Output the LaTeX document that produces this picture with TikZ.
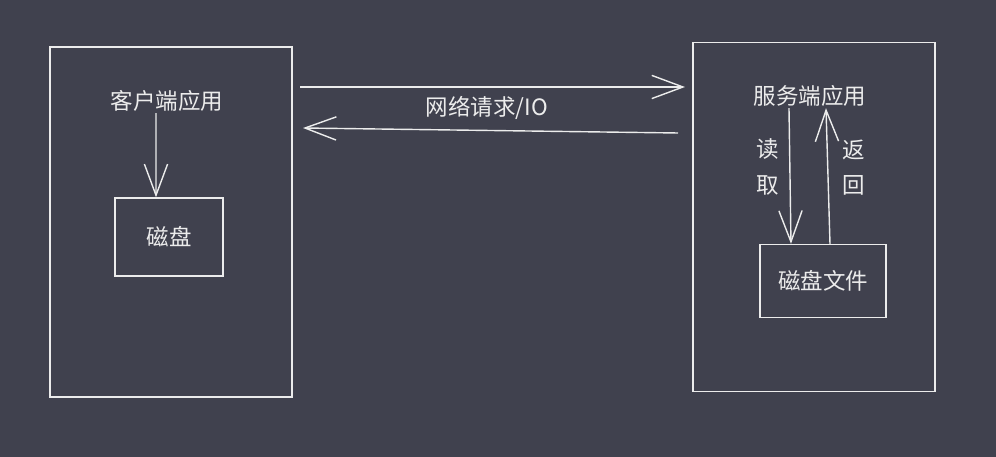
\documentclass[tikz,border=0pt]{standalone}
\usepackage{fontspec}
\newfontfamily\cjk{Noto Sans CJK SC}
\usepackage{tikz}
\usetikzlibrary{
  arrows.meta,
  calc,
  positioning}
\definecolor{bgdark}{RGB}{64,65,78}
\definecolor{chalk}{RGB}{236,236,236}

\begin{document}
\begin{tikzpicture}[x=0.025cm,y=-0.025cm,
            box/.style={draw=chalk,line width=1pt,inner sep=0pt},
            lbl/.style={text=chalk,font=\cjk\fontsize{16}{25}\selectfont,inner sep=1pt},
            arr/.style={draw=chalk,line width=1pt,-{Straight Barb[length=0.78cm,width=0.58cm]}}]
            \fill[bgdark] (0,0) rectangle (996,457);
            \useasboundingbox (0,0) rectangle (996,457);
            % 客户端
            \node[box,minimum width=6.05cm,minimum height=8.75cm] (cbox) at (171,222) {};
            \node[lbl] (capp) at (167,101) {客户端应用};
            \node[box,minimum width=2.7cm,minimum height=1.95cm,lbl,draw=chalk] (disk) at (169,237) {磁盘};
            \draw[arr] ([xshift=-0.275cm]capp.south) -- ([xshift=-0.325cm]disk.north);
            % 服务端
            \node[box,minimum width=6.05cm,minimum height=8.72cm] (sbox) at (814,217) {};
            \node[lbl] (sapp) at (810,96) {服务端应用};
            \node[box,minimum width=3.15cm,minimum height=1.82cm,lbl,draw=chalk] (dfile) at (823,281) {磁盘文件};
            \draw[arr] ([xshift=-0.525cm]sapp.south) -- ([xshift=-0.8cm]dfile.north);
            \draw[arr] ([xshift=0.175cm]dfile.north) -- ([xshift=0.4cm]sapp.south);
            \node[lbl,align=center] (rd) at (768,167) {读\\取};
            \node[lbl,align=center] (ret) at (854,168) {返\\回};
            % 网络
            \coordinate (reqL) at (300,87);
            \coordinate (reqR) at (685,87);
            \coordinate (rspR) at (678,133);
            \coordinate (rspL) at (303,128);
            \draw[arr] (reqL) -- (reqR);
            \draw[arr] (rspR) -- (rspL);
            \node[lbl] (net) at (487,108) {网络请求/IO};
        \end{tikzpicture}
\end{document}
